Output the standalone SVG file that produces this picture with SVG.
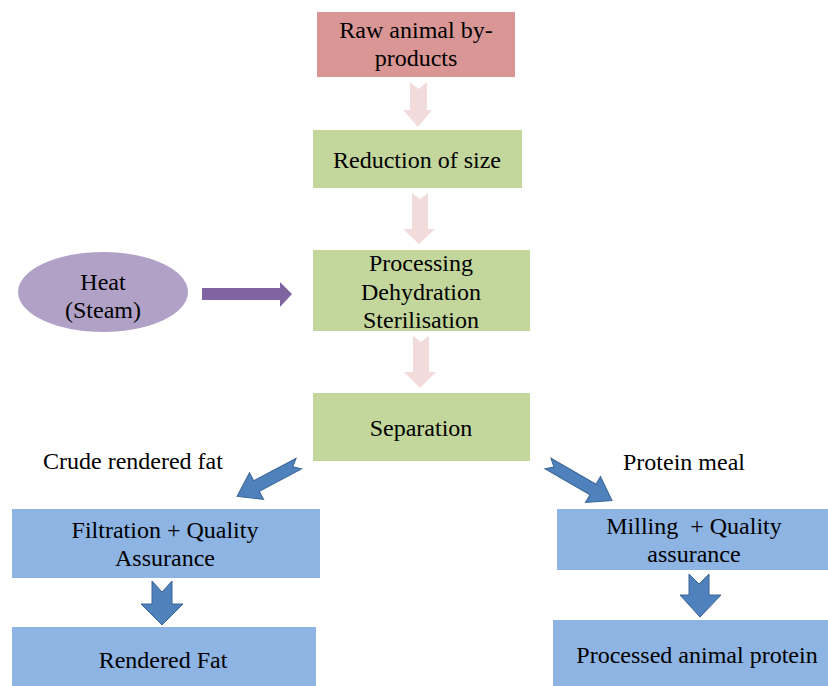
<svg xmlns="http://www.w3.org/2000/svg" width="828" height="686" viewBox="0 0 828 686" font-family="Liberation Serif, Times New Roman, serif">
<style>
text{font-size:24px;fill:#000;text-anchor:middle;white-space:pre}
.pink{fill:#d99694}
.green{fill:#c3d69b}
.blue{fill:#8eb4e3}
.pa{fill:#f2dcdb}
.ba{fill:#4f81bd;stroke:#3a6596;stroke-width:1}
.lbl{text-anchor:start}
</style>
<rect width="828" height="686" fill="#fff"/>
<g id="connectors">
  <path class="pa" d="M410 82 L418.5 89 L427 82 L427 110 L432 110 L418 127 L403 110 L410 110 Z"/>
  <path class="pa" d="M412 193 L420 199 L428 193 L428 229 L435 229 L419 244 L403 229 L412 229 Z"/>
  <path class="pa" d="M413 336 L421 342 L429 336 L429 372 L436 372 L420 388 L404 372 L413 372 Z"/>
  <path fill="#8064a2" d="M202 288 L280 288 L280 282 L292 294 L280 307 L280 300 L202 300 Z"/>
  <path class="ba" transform="translate(268,480) rotate(152)" d="M-35 -6 L13 -6 L13 -15 L35 0 L13 15 L13 6 L-35 6 L-28 0 Z"/>
  <path class="ba" transform="translate(580,482) rotate(30)" d="M-37 -6 L15 -6 L15 -15 L37 0 L15 15 L15 6 L-37 6 L-30 0 Z"/>
  <path class="ba" d="M152 581 L162 592 L172 581 L172 604 L183 604 L162 625 L141 604 L152 604 Z"/>
  <path class="ba" d="M689 574 L699 584 L709 574 L709 595 L721 595 L700 617 L680 595 L689 595 Z"/>
</g>
<g id="raw">
  <rect class="pink" x="317" y="12" width="198" height="65"/>
  <text x="416" y="38">Raw animal by-</text>
  <text x="416" y="66">products</text>
</g>
<g id="reduction">
  <rect class="green" x="313" y="130" width="209" height="58"/>
  <text x="417" y="168">Reduction of size</text>
</g>
<g id="heat">
  <ellipse cx="103" cy="292" rx="85" ry="40" fill="#b2a1c7"/>
  <text x="103" y="290">Heat</text>
  <text x="103" y="318">(Steam)</text>
</g>
<g id="processing">
  <rect class="green" x="313" y="250" width="217" height="81"/>
  <text x="421" y="271">Processing</text>
  <text x="421" y="300">Dehydration</text>
  <text x="421" y="328">Sterilisation</text>
</g>
<g id="separation">
  <rect class="green" x="313" y="393" width="217" height="68"/>
  <text x="421" y="436">Separation</text>
</g>
<g id="label-fat">
  <text class="lbl" x="43" y="469">Crude rendered fat</text>
</g>
<g id="label-protein">
  <text x="684" y="470">Protein meal</text>
</g>
<g id="filtration">
  <rect class="blue" x="12" y="509" width="308" height="69"/>
  <text x="165" y="538">Filtration + Quality</text>
  <text x="165" y="566">Assurance</text>
</g>
<g id="rendered-fat">
  <rect class="blue" x="12" y="627" width="304" height="59"/>
  <text x="163" y="668">Rendered Fat</text>
</g>
<g id="milling">
  <rect class="blue" x="557" y="509" width="271" height="61"/>
  <text x="694" y="534">Milling  + Quality</text>
  <text x="694" y="562">assurance</text>
</g>
<g id="processed-protein">
  <rect class="blue" x="553" y="620" width="275" height="66"/>
  <text x="697" y="663">Processed animal protein</text>
</g>
</svg>
